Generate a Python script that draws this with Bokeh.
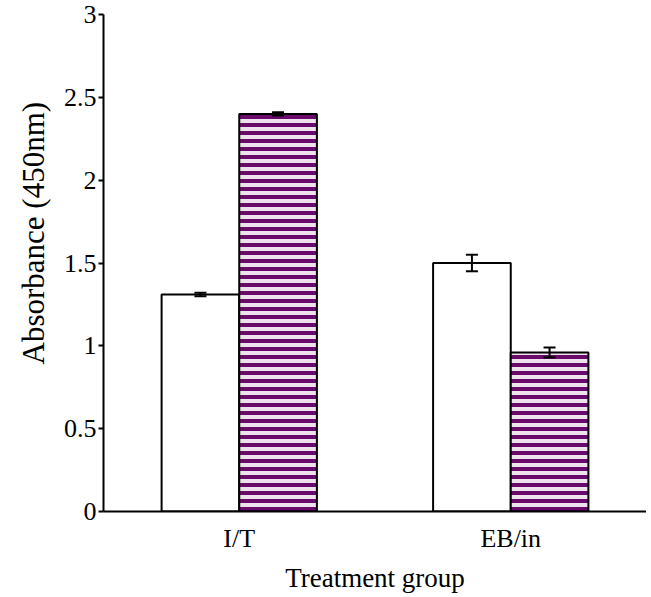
from bokeh.plotting import figure
from bokeh.models import ColumnDataSource, FactorRange, Range1d, Whisker, TeeHead, FixedTicker, Title
from bokeh.transform import dodge
from bokeh.embed import file_html
from bokeh.resources import INLINE

groups = ["I/T", "EB/in"]
series_a = [1.31, 1.50]      # white bars
series_a_err = [0.01, 0.05]
series_b = [2.40, 0.96]      # purple striped bars
series_b_err = [0.01, 0.03]
y_ticks = [0, 0.5, 1, 1.5, 2, 2.5, 3]

src = ColumnDataSource(dict(
    g=groups,
    a=series_a,
    a_lo=[v - e for v, e in zip(series_a, series_a_err)],
    a_hi=[v + e for v, e in zip(series_a, series_a_err)],
    b=series_b,
    b_lo=[v - e for v, e in zip(series_b, series_b_err)],
    b_hi=[v + e for v, e in zip(series_b, series_b_err)],
))

FONT = "Liberation Serif"
W = 0.286

p = figure(x_range=FactorRange(*groups, range_padding=0), y_range=Range1d(0, 3),
           width=646, height=595, output_backend="svg", toolbar_location=None,
           min_border_left=103, min_border_right=0, min_border_top=14, min_border_bottom=80)
p.outline_line_color = None
p.xgrid.grid_line_color = None
p.ygrid.grid_line_color = None

p.vbar(x=dodge("g", -W / 2, range=p.x_range), top="a", width=W, source=src,
       fill_color="white", line_color="black", line_width=2)
p.vbar(x=dodge("g", W / 2, range=p.x_range), top="b", width=W, source=src,
       fill_color="#efe2ef", line_color="black", line_width=2,
       hatch_pattern="horizontal_line", hatch_color="#6a0a6a",
       hatch_scale=8, hatch_weight=4)

for base, lo, hi in [(dodge("g", -W / 2, range=p.x_range), "a_lo", "a_hi"),
                     (dodge("g", W / 2, range=p.x_range), "b_lo", "b_hi")]:
    wk = Whisker(base=base, lower=lo, upper=hi, source=src, level="annotation",
                 line_color="black", line_width=2,
                 upper_head=TeeHead(size=12, line_width=2, line_color="black"),
                 lower_head=TeeHead(size=12, line_width=2, line_color="black"))
    p.add_layout(wk)

p.yaxis.ticker = FixedTicker(ticks=y_ticks)
p.yaxis.major_label_overrides = {0: "0", 0.5: "0.5", 1: "1", 1.5: "1.5", 2: "2", 2.5: "2.5", 3: "3"}
p.yaxis.minor_tick_line_color = None
p.yaxis.major_tick_out = 5
p.yaxis.major_tick_in = 0
p.yaxis.major_label_standoff = 2

ytitle = Title(text="Absorbance (450nm)", align="left", offset=147,
               text_font=FONT, text_font_size="31px", text_font_style="normal",
               text_color="black", standoff=20)
p.add_layout(ytitle, "left")

p.xaxis.major_tick_line_color = None
p.xaxis.major_label_standoff = 6
p.xaxis.axis_label = "Treatment group"
p.xaxis.axis_label_standoff = 7

for ax in (p.xaxis, p.yaxis):
    ax.axis_line_color = "black"
    ax.axis_line_width = 2
    ax.major_tick_line_width = 2
    ax.major_label_text_font = FONT
    ax.major_label_text_font_size = "26px"
    ax.major_label_text_color = "black"
    ax.axis_label_text_font = FONT
    ax.axis_label_text_font_style = "normal"
    ax.axis_label_text_color = "black"
p.xaxis.axis_label_text_font_size = "27px"

open("out.html", "w").write(file_html(p, INLINE))
